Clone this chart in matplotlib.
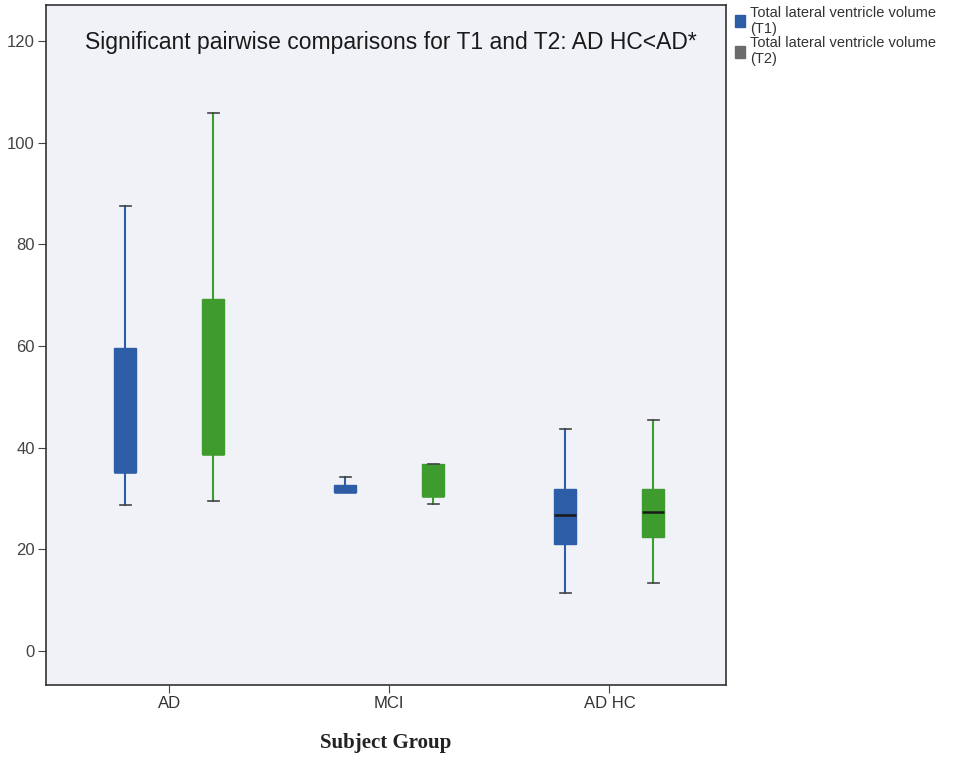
import numpy as np
import matplotlib.pyplot as plt
from matplotlib.patches import Patch

# Total lateral ventricle volume by subject group
groups = ["AD", "MCI", "AD HC"]
t1_whislo = [28.7, 31.3, 11.5]
t1_q1 = [35.2, 31.3, 21.0]
t1_med = [35.2, 31.3, 26.7]
t1_q3 = [59.6, 32.7, 31.9]
t1_whishi = [87.5, 34.2, 43.6]

t2_whislo = [29.5, 28.9, 13.3]
t2_q1 = [38.8, 30.5, 22.4]
t2_med = [38.8, 30.5, 27.3]
t2_q3 = [69.3, 36.8, 31.9]
t2_whishi = [105.9, 36.8, 45.5]

# medians that show as a black line (AD and MCI sit on the box edge)
median_shown = [False, False, True]

yticks = [0, 20, 40, 60, 80, 100, 120]
blue = "#2c5da6"
green = "#3d9c2d"


def stats(lo, q1, med, q3, hi):
    return [dict(whislo=a, q1=b, med=c, q3=d, whishi=e, fliers=[])
            for a, b, c, d, e in zip(lo, q1, med, q3, hi)]


plt.rcParams['font.family'] = ['Liberation Sans', 'DejaVu Sans']
fig = plt.figure(figsize=(9.66, 7.62), dpi=100)
ax = fig.add_axes([0.0476, 0.101, 0.704, 0.892])
ax.set_facecolor("#f1f2f8")

pos = np.arange(1, len(groups) + 1)
for st, off, col in [(stats(t1_whislo, t1_q1, t1_med, t1_q3, t1_whishi), -0.2, blue),
                     (stats(t2_whislo, t2_q1, t2_med, t2_q3, t2_whishi), 0.2, green)]:
    bp = ax.bxp(st, positions=pos + off, widths=0.1, patch_artist=True, showfliers=False,
                boxprops=dict(facecolor=col, edgecolor=col, linewidth=1),
                whiskerprops=dict(color=col, linewidth=1.5),
                capprops=dict(color="#444444", linewidth=1.2),
                medianprops=dict(color="#1a1a1a", linewidth=1.8),
                capwidths=0.05)
    for m, shown in zip(bp["medians"], median_shown):
        if not shown:
            m.set_color(col)

ax.set_xlim(0.44, 3.53)
ax.set_ylim(-6.7, 127)
ax.set_xticks(pos)
ax.set_xticklabels(groups, fontsize=12, color="#333333")
ax.set_yticks(yticks)
ax.set_yticklabels([str(v) for v in yticks], fontsize=12, color="#444444")
ax.tick_params(direction="out", length=6, color="#444444", pad=2)
for s in ax.spines.values():
    s.set_color("#333333")
    s.set_linewidth(1.2)

ax.text(0.057, 0.945, "Significant pairwise comparisons for T1 and T2: AD HC<AD*",
        transform=ax.transAxes, fontsize=16.5, color="#1a1a1a", va="center",
        fontweight="medium")
ax.set_xlabel("Subject Group", family="Liberation Serif", fontweight="bold",
              fontsize=15, color="#222222", labelpad=16)

handles = [Patch(facecolor=blue, edgecolor=blue),
           Patch(facecolor="#6b6b6b", edgecolor="#6b6b6b")]
labels = ["Total lateral ventricle volume\n(T1)", "Total lateral ventricle volume\n(T2)"]
fig.legend(handles, labels, loc="upper left", bbox_to_anchor=(0.755, 1.0),
           frameon=False, fontsize=10.5, handlelength=0.7, handleheight=0.9,
           handletextpad=0.3, labelspacing=0.0, borderaxespad=0.0,
           labelcolor="#333333")

fig.savefig("out.png", dpi=100)
